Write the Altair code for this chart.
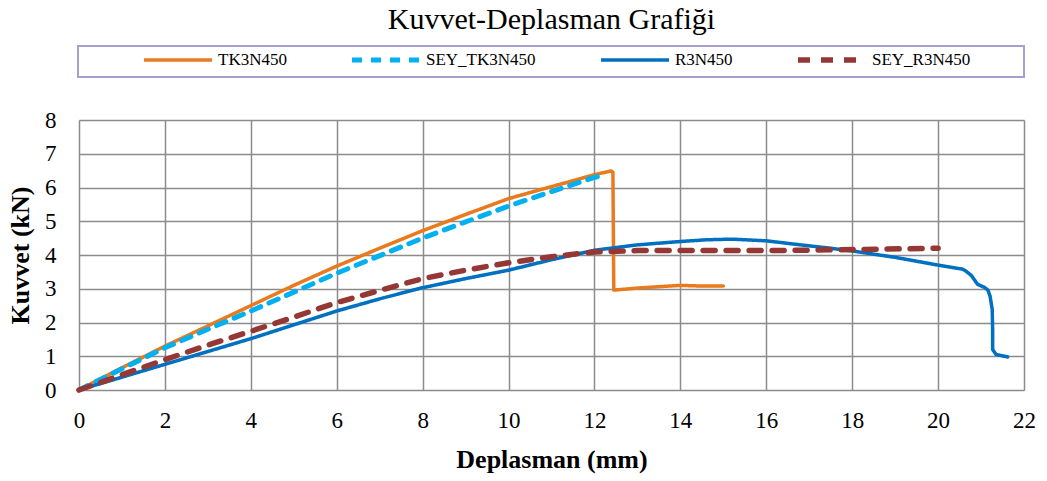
import altair as alt
import pandas as pd

SERIES = ["TK3N450", "SEY_TK3N450", "R3N450", "SEY_R3N450"]
COLORS = ["#E97A1E", "#00B0F0", "#0070C0", "#953735"]

tk_x = [0, 1, 2, 3, 4, 5, 6, 7, 8, 9, 10, 10.7, 11.5, 12.0, 12.39, 12.43, 12.45, 13.0, 13.5, 14.0, 14.5, 15.0]
tk_y = [0, 0.66, 1.30, 1.90, 2.50, 3.10, 3.67, 4.20, 4.72, 5.20, 5.67, 5.92, 6.20, 6.38, 6.49, 6.45, 2.96, 3.02, 3.06, 3.10, 3.08, 3.08]

sey_tk_x = [0, 1, 2, 3, 4, 5, 6, 7, 8, 9, 10, 11, 12, 12.15]
sey_tk_y = [0, 0.63, 1.25, 1.80, 2.34, 2.90, 3.46, 3.98, 4.50, 4.98, 5.45, 5.88, 6.30, 6.34]

r_x = [0, 1, 2, 3, 4, 5, 6, 7, 8, 9, 10, 11, 12, 13, 14, 14.6, 15.2, 16, 16.8, 17.5, 18, 19, 20,
       20.57, 20.65, 20.77, 20.92, 21.08, 21.16, 21.21, 21.26, 21.27, 21.27, 21.35, 21.62]
r_y = [0, 0.38, 0.76, 1.14, 1.52, 1.93, 2.34, 2.70, 3.03, 3.30, 3.55, 3.86, 4.14, 4.30, 4.40, 4.45, 4.47, 4.42, 4.30, 4.20, 4.12, 3.93, 3.70,
       3.58, 3.52, 3.40, 3.13, 3.04, 2.96, 2.78, 2.39, 1.80, 1.20, 1.05, 0.98]

sey_r_x = [0, 1, 2, 3, 4, 5, 6, 7, 8, 9, 10, 11, 12, 13, 14, 16, 18, 20]
sey_r_y = [0, 0.45, 0.90, 1.33, 1.74, 2.16, 2.59, 2.95, 3.30, 3.55, 3.77, 3.95, 4.09, 4.13, 4.13, 4.13, 4.16, 4.20]

rows = []
for name, xs, ys in [("TK3N450", tk_x, tk_y), ("SEY_TK3N450", sey_tk_x, sey_tk_y),
                     ("R3N450", r_x, r_y), ("SEY_R3N450", sey_r_x, sey_r_y)]:
    for i, (a, b) in enumerate(zip(xs, ys)):
        rows.append({"series": name, "x": a, "y": b, "i": i})
df = pd.DataFrame(rows)

FONT = "Liberation Serif"

lines = alt.Chart(df).mark_line(strokeCap="round", strokeJoin="round").encode(
    x=alt.X("x:Q", title="Deplasman (mm)",
            scale=alt.Scale(domain=[0, 22], nice=False),
            axis=alt.Axis(values=list(range(0, 23, 2)), labelFontSize=23, labelFont=FONT,
                          labelPadding=19, ticks=False, titleFont=FONT, titleFontSize=26,
                          titleFontWeight="bold", titlePadding=14, labelColor="#000",
                          titleColor="#000", domain=False, gridColor="#8C8C8C", gridWidth=1.5,
                          gridOpacity=1, labelFlush=False)),
    y=alt.Y("y:Q", title="Kuvvet (kN)",
            scale=alt.Scale(domain=[0, 8], nice=False),
            axis=alt.Axis(values=list(range(0, 9)), labelFontSize=23, labelFont=FONT,
                          labelPadding=23, ticks=False, titleFont=FONT, titleFontSize=26,
                          titleFontWeight="bold", titlePadding=11, labelColor="#000",
                          titleColor="#000", domain=False, gridColor="#8C8C8C", gridWidth=1.5,
                          gridOpacity=1, labelFlush=False)),
    color=alt.Color("series:N", scale=alt.Scale(domain=SERIES, range=COLORS), title=None,
                    legend=alt.Legend(orient="none", legendX=62, legendY=-70, direction="horizontal",
                                      columns=4, symbolType="stroke", symbolSize=4624, clipHeight=20,
                                      symbolStrokeWidth=5, labelFont=FONT, labelFontSize=17,
                                      labelColor="#000", labelOffset=3, columnPadding=62,
                                      gridAlign="none", padding=0)),
    strokeDash=alt.StrokeDash("series:N", scale=alt.Scale(type="ordinal", domain=SERIES,
                              range=[[1, 0], [10, 9], [1, 0], [12, 11]]), title=None,
                              legend=None),
    strokeWidth=alt.StrokeWidth("series:N", scale=alt.Scale(type="ordinal", domain=SERIES,
                                range=[3.5, 5, 3.5, 5.5]), title=None, legend=None),
    order=alt.Order("i:Q"),
)

frame = alt.Chart(pd.DataFrame({"k": [0]})).mark_rect(filled=False, stroke="#A99FCB", strokeWidth=2).encode(
    x=alt.value(-1), x2=alt.value(945), y=alt.value(-74), y2=alt.value(-43)
)

chart = alt.layer(frame, lines).properties(
    width=945, height=270,
    title=alt.TitleParams("Kuvvet-Deplasman Grafiği", font=FONT, fontSize=30, fontWeight="normal",
                          color="#000", anchor="middle", offset=10),
    autosize=alt.AutoSizeParams(type="none"),
    padding={"left": 79, "top": 120, "right": 23, "bottom": 91},
).configure_view(stroke="#8C8C8C", strokeWidth=2).configure(background="white")

chart.save("out.html", embed_options={"renderer": "svg", "actions": False})
